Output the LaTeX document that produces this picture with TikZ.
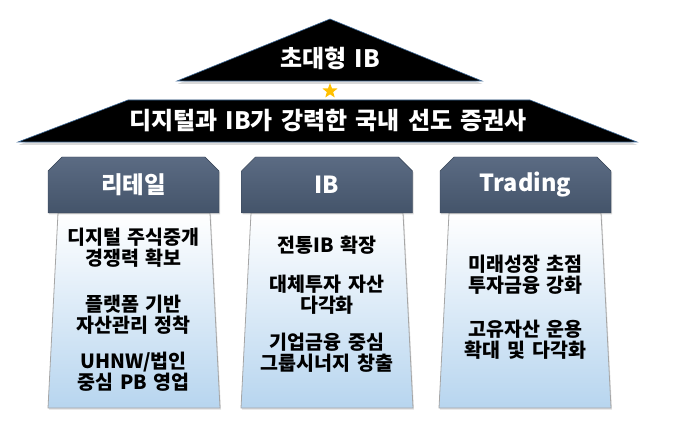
\documentclass[tikz,border=0pt]{standalone}
\usepackage{fontspec}
\setmainfont{Noto Sans CJK KR}[WordSpace=1.5]
\usetikzlibrary{shapes.geometric, shapes.misc, shadows}
\definecolor{pillarhead}{HTML}{44546A}
\definecolor{pillarheadlt}{HTML}{5B6B83}
\definecolor{pillarbody}{HTML}{B7D5EF}
\definecolor{pillaredge}{HTML}{A6A6A6}
\definecolor{roofedge}{HTML}{3E6A98}
\definecolor{stargold}{HTML}{FFC000}

\tikzset{
  roof/.style={fill=black, draw=roofedge, line width=0.6pt,
    drop shadow={shadow xshift=0.5pt, shadow yshift=-3pt, opacity=0.3}},
  rooftext/.style={text=white, font=\fontsize{24}{28}\selectfont\bfseries},
  headbox/.style={chamfered rectangle, chamfered rectangle corners={north west, north east},
    chamfered rectangle xsep=7pt, chamfered rectangle ysep=7pt,
    minimum width=171pt, minimum height=56pt, inner sep=0pt,
    top color=pillarheadlt, bottom color=pillarhead, draw=pillarhead!80!black,
    text=white, font=\fontsize{23.5}{26}\selectfont\bfseries,
    drop shadow={shadow xshift=1pt, shadow yshift=-1.5pt, opacity=0.3}},
  pillar/.style={top color=white, bottom color=pillarbody, draw=pillaredge, line width=0.8pt,
    drop shadow={shadow xshift=1pt, shadow yshift=-1.5pt, opacity=0.25}},
  bodytext/.style={align=center, text=black, font=\fontsize{19.5}{21}\selectfont\bfseries}
}

\begin{document}
\begin{tikzpicture}[x=1pt, y=-1pt]
\useasboundingbox (0,0) rectangle (700,427);

% roof
\path[roof] (177,81) -- (330,19) -- (482,81) -- cycle;
\node[rooftext] (peak) at (330,58) {초대형 IB};
\node[star, star points=5, star point ratio=2.4, fill=stargold, minimum size=16pt, inner sep=0pt] (star) at (330,91) {};
\path[roof] (128,100) -- (530,100) -- (637,142) -- (18,142) -- cycle;
\node[rooftext] (vision) at (328,121) {디지털과 IB가 강력한 국내 선도 증권사};

% pillars
\path[pillar] (58,213) -- (210,213) -- (220,408) -- (48,408) -- cycle;
\path[pillar] (251,213) -- (403,213) -- (413,408) -- (241,408) -- cycle;
\path[pillar] (449,213) -- (601,213) -- (611,408) -- (439,408) -- cycle;

\node[headbox] (retail) at (133.5,185) {리테일};
\node[headbox] (ib) at (327,185) {IB};
\node[headbox] (trading) at (525.5,185) {Trading};

% retail items
\node[bodytext] (retail1) at (133.5,248) {디지털 주식중개\\경쟁력 확보};
\node[bodytext] (retail2) at (133.5,315) {플랫폼 기반\\자산관리 정착};
\node[bodytext] (retail3) at (133.5,372) {UHNW/법인\\중심 PB 영업};

% ib items
\node[bodytext] (ib1) at (327,245) {전통IB 확장};
\node[bodytext] (ib2) at (327,295) {대체투자 자산\\다각화};
\node[bodytext] (ib3) at (327,353) {기업금융 중심\\그룹시너지 창출};

% trading items
\node[bodytext] (trading1) at (525.5,274.5) {미래성장 초점\\투자금융 강화};
\node[bodytext] (trading2) at (525.5,340) {고유자산 운용\\확대 및 다각화};

\end{tikzpicture}
\end{document}
